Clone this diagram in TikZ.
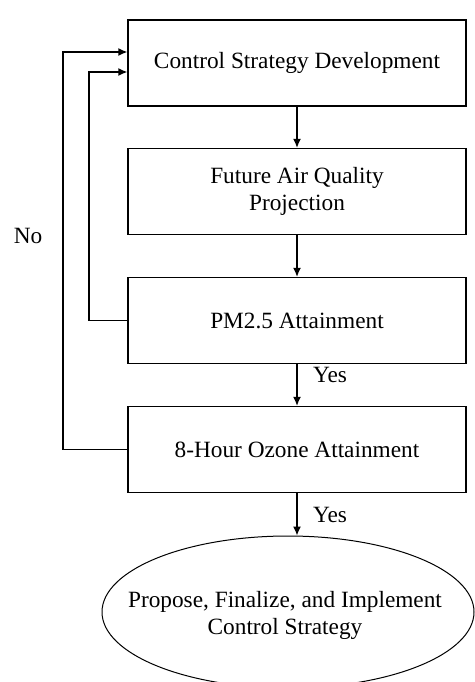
\documentclass[tikz,border=0pt]{standalone}
\usepackage{fontspec}
\setmainfont{Liberation Serif}
\usetikzlibrary{arrows.meta,shapes.geometric}
\begin{document}
\begin{tikzpicture}[x=1pt,y=-1pt,
  every node/.style={font=\fontsize{23.3}{27}\selectfont},
  stepbox/.style={draw,line width=1.3pt,minimum width=338pt,minimum height=86pt,align=center,inner sep=0pt},
  arr/.style={line width=1.3pt,-{Latex[length=9pt,width=8pt]}},
  lbl/.style={inner sep=0pt}]
\useasboundingbox (0,0) rectangle (474,682);
\node[stepbox] (b1) at (297,63) {Control Strategy Development};
\node[stepbox] (b2) at (297,191.5) {Future Air Quality\\ Projection};
\node[stepbox] (b3) at (297,320.5) {PM2.5 Attainment};
\node[stepbox] (b4) at (297,449.5) {8-Hour Ozone Attainment};
\node[draw,ellipse,line width=1pt,minimum width=372pt,minimum height=152pt,inner sep=0pt] (e) at (288,612) {};
\node[align=center,inner sep=0pt] (et) at (285,615) {Propose, Finalize, and Implement\\ Control Strategy};
\draw[arr] (b1) -- (b2);
\draw[arr] (b2) -- (b3);
\draw[arr] (b3) -- (b4);
\draw[arr] (b4.south) -- (b4.south |- e.north);
\node[lbl] (y1) at (330,375) {Yes};
\node[lbl] (y2) at (330,515) {Yes};
\node[lbl] (no) at (28,236) {No};
\coordinate (t1) at (b1.west |- 0,52);
\coordinate (t2) at (b1.west |- 0,72);
\draw[arr] (b4.west) -- (63,449.5) -- (63,52) -- (t1);
\draw[arr] (b3.west) -- (89,320.5) -- (89,72) -- (t2);
\end{tikzpicture}
\end{document}
